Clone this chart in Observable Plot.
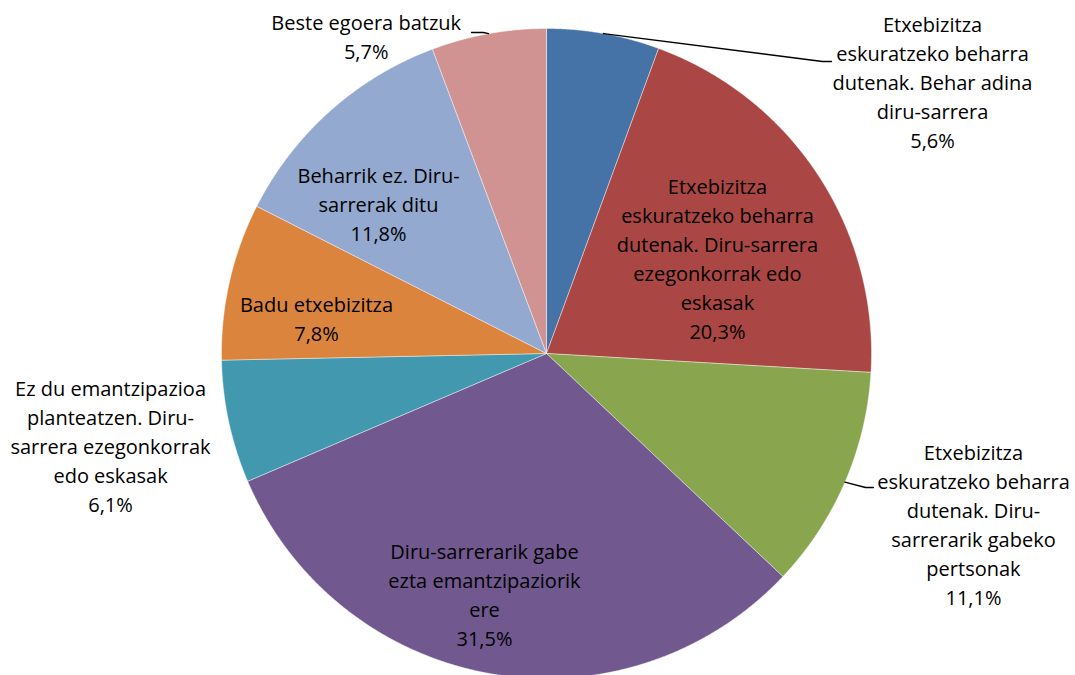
<!DOCTYPE html>
<html>
<head>
<meta charset="utf-8">
<script src="https://cdn.jsdelivr.net/npm/d3@7"></script>
<script src="https://cdn.jsdelivr.net/npm/@observablehq/plot@0.6"></script>
<style>
  html, body { margin: 0; padding: 0; background: #fff; }
  #chart { width: 1075px; height: 675px; overflow: hidden; }
</style>
</head>
<body>
<div id="chart"></div>
<script>
// ---- data ----
const categories = [
  "Etxebizitza eskuratzeko beharra dutenak. Behar adina diru-sarrera",
  "Etxebizitza eskuratzeko beharra dutenak. Diru-sarrera ezegonkorrak edo eskasak",
  "Etxebizitza eskuratzeko beharra dutenak. Diru-sarrerarik gabeko pertsonak",
  "Diru-sarrerarik gabe ezta emantzipaziorik ere",
  "Ez du emantzipazioa planteatzen. Diru-sarrera ezegonkorrak edo eskasak",
  "Badu etxebizitza",
  "Beharrik ez. Diru-sarrerak ditu",
  "Beste egoera batzuk"
];
const values = [5.6, 20.3, 11.1, 31.5, 6.1, 7.8, 11.8, 5.7];
const labelLines = [
  "Etxebizitza\neskuratzeko beharra\ndutenak. Behar adina\ndiru-sarrera",
  "Etxebizitza\neskuratzeko beharra\ndutenak. Diru-sarrera\nezegonkorrak edo\neskasak",
  "Etxebizitza\neskuratzeko beharra\ndutenak. Diru-\nsarrerarik gabeko\npertsonak",
  "Diru-sarrerarik gabe\nezta emantzipaziorik\nere",
  "Ez du emantzipazioa\nplanteatzen. Diru-\nsarrera ezegonkorrak\nedo eskasak",
  "Badu etxebizitza",
  "Beharrik ez. Diru-\nsarrerak ditu",
  "Beste egoera batzuk"
];
const colors = ["#4572A7", "#AA4643", "#89A54E", "#71588F", "#4198AF", "#DB843D", "#93A9CF", "#D19392"];

// ---- layout (style) ----
const W = 1075, H = 675;
const CX = 546, CY = 353, R = 325;           // pie centre and radius in px
// label placement: angle offset from slice mid-angle (deg) and radius factor
const labelLayout = [
  {da: 45.04, r: 1.4477},
  {da: 4.83,  r: 0.598},
  {da: -1.18, r: 1.4185},
  {da: 4.2,   r: 0.773},
  {da: -0.2,  r: 1.3733},
  {da: -4.84, r: 0.7147},
  {da: -7.0,  r: 0.6869},
  {da: -19.55, r: 1.1157}
];
// leader lines (slice index, elbow, end) in radius units
const leaders = [
  {i: 0, elbow: [0.8492, 0.8985], end: [0.8769, 0.8985]},
  {i: 2, elbow: [0.9815, -0.4123], end: [1.0062, -0.4123]},
  {i: 7, elbow: [-0.1938, 0.9877], end: [-0.2308, 0.9877]}
];

const fmt = v => d3.format(".1f")(v).replace(".", ",") + "%";
const arcs = d3.pie().sort(null).value(d => d)(values);
const polar = (a, r) => [r * Math.sin(a), r * Math.cos(a)];

// slice polygons
const slicePts = [];
arcs.forEach((a, i) => {
  slicePts.push({i, x: 0, y: 0});
  const n = Math.max(2, Math.ceil((a.endAngle - a.startAngle) / 0.004));
  for (let k = 0; k <= n; k++) {
    const t = a.startAngle + (a.endAngle - a.startAngle) * k / n;
    const [x, y] = polar(t, 1);
    slicePts.push({i, x, y});
  }
  slicePts.push({i, x: 0, y: 0});
});

const labels = arcs.map((a, i) => {
  const mid = (a.startAngle + a.endAngle) / 2 + labelLayout[i].da * Math.PI / 180;
  const [x, y] = polar(mid, labelLayout[i].r);
  return {x, y, text: labelLines[i] + "\n" + fmt(values[i])};
});

const leaderPts = [];
leaders.forEach((l, k) => {
  const a = arcs[l.i];
  const [x, y] = polar((a.startAngle + a.endAngle) / 2, 1);
  leaderPts.push({k, x, y});
  leaderPts.push({k, x: l.elbow[0], y: l.elbow[1]});
  leaderPts.push({k, x: l.end[0], y: l.end[1]});
});

const chart = Plot.plot({
  width: W, height: H,
  margin: 0,
  x: {domain: [-CX / R, (W - CX) / R], axis: null},
  y: {domain: [-(H - CY) / R, CY / R], axis: null},
  color: {domain: d3.range(values.length), range: colors},
  style: {fontFamily: "'Open Sans', Lato, sans-serif", background: "#fff"},
  marks: [
    Plot.line(slicePts, {x: "x", y: "y", z: "i", fill: "i", stroke: "#ffffff", strokeWidth: 0.6, strokeOpacity: 0.7, curve: "linear"}),
    Plot.line(leaderPts, {x: "x", y: "y", z: "k", stroke: "#000", strokeWidth: 1.3}),
    Plot.text(labels, {x: "x", y: "y", text: "text", fontSize: 20, lineHeight: 1.45, lineAnchor: "middle", dy: -4, fill: "#000"})
  ]
});
document.getElementById("chart").appendChild(chart);
</script>
</body>
</html>
